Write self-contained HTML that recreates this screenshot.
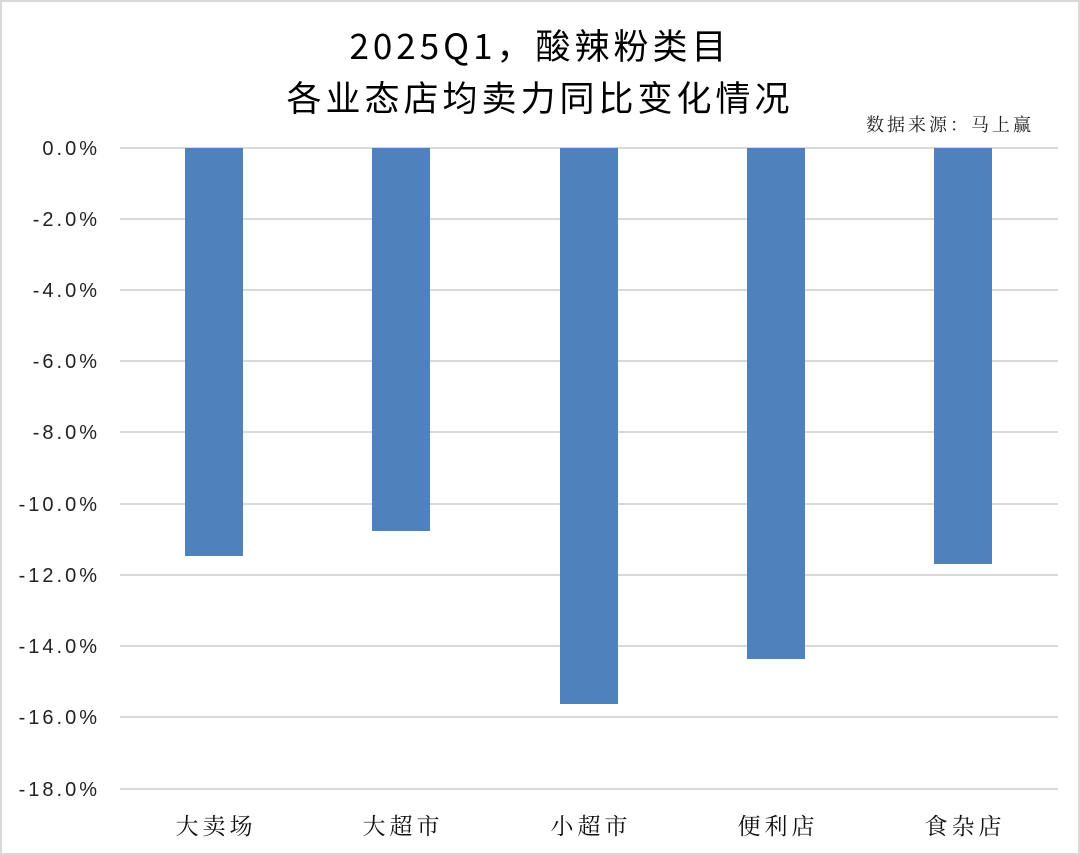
<!DOCTYPE html>
<html><head><meta charset="utf-8"><style>
html,body{margin:0;padding:0;background:#fff}
#c{position:relative;width:1076px;height:851px;border:2px solid #d9d9d9;overflow:hidden;font-family:"Liberation Sans","Noto Sans CJK SC",sans-serif}
.t{position:absolute;left:0;width:1076px;text-align:center;font-family:"Noto Sans CJK SC",sans-serif;font-size:35px;letter-spacing:4px;color:#000;line-height:44px}
.yl{position:absolute;right:978px;font-size:20px;color:#222;line-height:24px;letter-spacing:3px}
.g{position:absolute;left:118px;width:938px;height:2px;background:#d9d9d9}
.b{position:absolute;width:58px;background:#4f81bd}
.xl{position:absolute;width:150px;text-align:center;font-family:"Noto Serif CJK SC","Noto Sans CJK SC",serif;font-size:23px;letter-spacing:4px;color:#111;top:806px}
</style></head><body><div id="c">
<div class="t" style="top:21px">2025Q1，酸辣粉类目</div>
<div class="t" style="top:73px">各业态店均卖力同比变化情况</div>
<div style="position:absolute;right:44px;top:109px;font-family:'Noto Serif CJK SC',serif;font-size:18px;letter-spacing:3px;color:#222">数据来源：马上赢</div>

<div class="g" style="top:145px"></div><div class="yl" style="top:135px">0.0%</div>
<div class="g" style="top:216px"></div><div class="yl" style="top:206px">-2.0%</div>
<div class="g" style="top:287px"></div><div class="yl" style="top:277px">-4.0%</div>
<div class="g" style="top:358px"></div><div class="yl" style="top:348px">-6.0%</div>
<div class="g" style="top:429px"></div><div class="yl" style="top:419px">-8.0%</div>
<div class="g" style="top:501px"></div><div class="yl" style="top:491px">-10.0%</div>
<div class="g" style="top:572px"></div><div class="yl" style="top:562px">-12.0%</div>
<div class="g" style="top:643px"></div><div class="yl" style="top:633px">-14.0%</div>
<div class="g" style="top:714px"></div><div class="yl" style="top:704px">-16.0%</div>
<div class="g" style="top:786px"></div><div class="yl" style="top:776px">-18.0%</div>

<div class="b" style="left:183px;top:146px;height:408px"></div>
<div class="b" style="left:370px;top:146px;height:383px"></div>
<div class="b" style="left:558px;top:146px;height:556px"></div>
<div class="b" style="left:745px;top:146px;height:511px"></div>
<div class="b" style="left:932px;top:146px;height:416px"></div>

<div class="xl" style="left:139px">大卖场</div>
<div class="xl" style="left:326px">大超市</div>
<div class="xl" style="left:514px">小超市</div>
<div class="xl" style="left:701px">便利店</div>
<div class="xl" style="left:888px">食杂店</div>
</div></body></html>
